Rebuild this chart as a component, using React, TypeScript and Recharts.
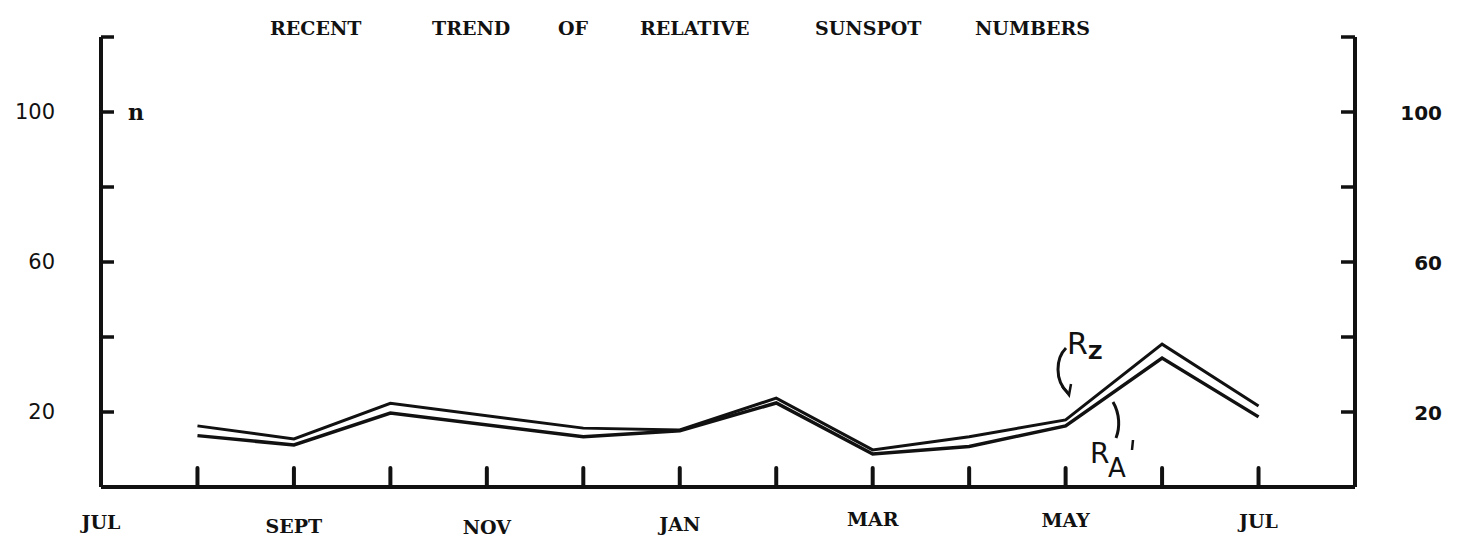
import { Line, LineChart, XAxis, YAxis } from "recharts";

/* ────────── recent trend of relative sunspot numbers ────────── */

// month index: 0 = JUL, 1 = AUG ... 12 = JUL (next year), no reading for NOV
const monthIndex = [1, 2, 3, 5, 6, 7, 8, 9, 10, 11, 12];
const rzValues = [16.3, 12.8, 22.3, 15.7, 15.2, 23.7, 9.9, 13.4, 17.9, 38.1, 21.6];
const raValues = [13.7, 11.2, 19.7, 13.4, 15.0, 22.4, 8.8, 10.8, 16.3, 34.4, 18.7];

const monthTicks = [0, 1, 2, 3, 4, 5, 6, 7, 8, 9, 10, 11, 12];
const monthLabels = ["JUL", "", "SEPT", "", "NOV", "", "JAN", "", "MAR", "", "MAY", "", "JUL"];
const yTicks = [0, 20, 40, 60, 80, 100, 120];
const yLabelled = [20, 60, 100];
const titleWords = ["RECENT", "TREND", "OF", "RELATIVE", "SUNSPOT", "NUMBERS"];

// layout only (typewriter labels sit at slightly different heights)
const labelDrop = [42, 0, 46, 0, 47, 0, 44, 0, 39, 0, 40, 0, 41];
const titleX = [270, 432, 558, 640, 815, 975];

const data = monthIndex.map((m, i) => ({ m, rz: rzValues[i], ra: raValues[i] }));

const ink = "#111";
const typeFont = "'DejaVu Serif', 'Liberation Serif', serif";

const XTick = (props: any) => {
  const { x, y, payload } = props;
  const v = payload.value as number;
  return (
    <g>
      {v > 0 && (
        <line x1={x} y1={y - 19} x2={x} y2={y} stroke={ink} strokeWidth={4} strokeLinecap="round" />
      )}
      {monthLabels[v] && (
        <text
          x={x}
          y={y + labelDrop[v]}
          textAnchor="middle"
          fontFamily={typeFont}
          fontWeight="bold"
          fontSize={19}
          fill={ink}
        >
          {monthLabels[v]}
        </text>
      )}
    </g>
  );
};

const LeftTick = (props: any) => {
  const { x, y, payload } = props;
  const v = payload.value as number;
  return (
    <g>
      {v > 0 && <line x1={x} y1={y} x2={x + 13} y2={y} stroke={ink} strokeWidth={3.5} />}
      {yLabelled.includes(v) && (
        <text x={x - 46} y={y + 7} textAnchor="end" fontFamily="'DejaVu Sans', sans-serif" fontSize={21} fill={ink}>
          {v}
        </text>
      )}
    </g>
  );
};

const RightTick = (props: any) => {
  const { x, y, payload } = props;
  const v = payload.value as number;
  return (
    <g>
      {v > 0 && <line x1={x - 14} y1={y} x2={x} y2={y} stroke={ink} strokeWidth={3.5} />}
      {yLabelled.includes(v) && (
        <text
          x={x + 87}
          y={y + 8}
          textAnchor="end"
          fontFamily="'DejaVu Sans', sans-serif"
          fontWeight="bold"
          fontSize={20}
          fill={ink}
        >
          {v}
        </text>
      )}
    </g>
  );
};

export default function App() {
  return (
    <div style={{ position: "absolute", left: 0, top: 0, width: 1458, height: 540, background: "#fff" }}>
      <LineChart width={1458} height={540} data={data} margin={{ top: 37, right: 0, bottom: 0, left: 0 }}>
        <XAxis
          dataKey="m"
          type="number"
          domain={[0, 13]}
          ticks={monthTicks}
          interval={0}
          height={53}
          tickSize={0}
          tickMargin={0}
          tickLine={false}
          axisLine={{ stroke: ink, strokeWidth: 4 }}
          tick={<XTick />}
        />
        <YAxis
          yAxisId="left"
          domain={[0, 120]}
          ticks={yTicks}
          width={101}
          tickSize={0}
          tickMargin={0}
          tickLine={false}
          axisLine={{ stroke: ink, strokeWidth: 4 }}
          tick={<LeftTick />}
        />
        <YAxis
          yAxisId="right"
          orientation="right"
          domain={[0, 120]}
          ticks={yTicks}
          width={103}
          tickSize={0}
          tickMargin={0}
          tickLine={false}
          axisLine={{ stroke: ink, strokeWidth: 4 }}
          tick={<RightTick />}
        />
        <Line
          yAxisId="left"
          type="linear"
          dataKey="rz"
          stroke={ink}
          strokeWidth={3}
          dot={false}
          isAnimationActive={false}
        />
        <Line
          yAxisId="right"
          type="linear"
          dataKey="ra"
          stroke={ink}
          strokeWidth={3.5}
          dot={false}
          isAnimationActive={false}
        />
      </LineChart>

      <svg
        width={1458}
        height={540}
        style={{ position: "absolute", left: 0, top: 0, pointerEvents: "none" }}
      >
        {titleWords.map((w, i) => (
          <text
            key={w}
            x={titleX[i]}
            y={35}
            fontFamily={typeFont}
            fontWeight="bold"
            fontSize={19}
            fill={ink}
          >
            {w}
          </text>
        ))}
        <text x={128} y={120} fontFamily={typeFont} fontWeight="bold" fontSize={22} fill={ink}>
          n
        </text>
        {/* hand-written series notes */}
        <text x={1067} y={354} fontFamily="'DejaVu Sans', sans-serif" fontSize={30} fill={ink}>
          R
        </text>
        <text x={1088} y={359} fontFamily="'DejaVu Sans', sans-serif" fontSize={20} fontWeight="bold" fill={ink}>
          Z
        </text>
        <path d="M1066 348 C1056 358 1054 380 1068 393" fill="none" stroke={ink} strokeWidth={3} />
        <path d="M1062 386 L1069 395 L1071 384" fill="none" stroke={ink} strokeWidth={2.5} />
        <path d="M1113 402 C1120 414 1120 428 1116 438" fill="none" stroke={ink} strokeWidth={3} />
        <text x={1090} y={463} fontFamily="'DejaVu Sans', sans-serif" fontSize={28} fill={ink}>
          R
        </text>
        <text x={1108} y={477} fontFamily="'DejaVu Sans', sans-serif" fontSize={26} fill={ink}>
          A
        </text>
        <path d="M1133 440 L1132 450" fill="none" stroke={ink} strokeWidth={2.5} />
      </svg>
    </div>
  );
}
